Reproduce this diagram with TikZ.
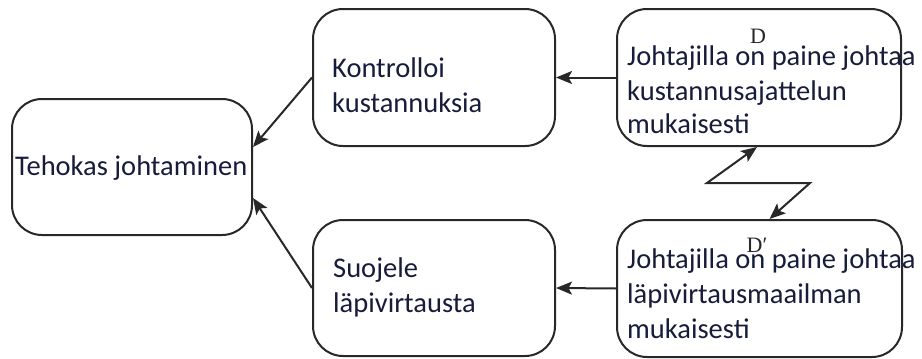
\documentclass[tikz,border=0pt]{standalone}
\usepackage{fontspec}
\setmainfont{Carlito}
\newfontfamily\labelserif{Liberation Serif}
\usetikzlibrary{arrows.meta}
\definecolor{inkline}{RGB}{40,40,40}
\definecolor{inktext}{RGB}{22,28,58}
\begin{document}
\begin{tikzpicture}[x=1pt,y=-1pt,
  box/.style={draw=inkline, line width=2pt, rounded corners=30pt, fill=white, inner sep=0pt},
  txt/.style={anchor=base west, inner sep=0pt, text=inktext, font=\fontsize{28.5}{34}\selectfont},
  tag/.style={anchor=base, inner sep=0pt, text=inkline, font=\labelserif\fontsize{22}{22}\selectfont},
  tip/.tip={Stealth[length=16pt,width=13pt,inset=3.5pt]},
  link/.style={draw=inkline, line width=2pt, -tip},
  twoway/.style={draw=inkline, line width=2pt, tip-tip}]
\useasboundingbox (0,0) rectangle (922,359);
\fill[white] (0,0) rectangle (922,359);

% boxes
\node[box, minimum width=240pt, minimum height=136pt] (T)  at (132,167) {};
\node[box, minimum width=242pt, minimum height=137pt] (K)  at (434,77.5) {};
\node[box, minimum width=242pt, minimum height=136pt] (S)  at (434,288) {};
\node[box, minimum width=284pt, minimum height=137pt] (D)  at (759,77.5) {};
\node[box, minimum width=285pt, minimum height=137pt] (Dp) at (759.5,288.5) {};

% texts
\node[txt] (tT) at (15,175) {Tehokas johtaminen};
\node[txt] (tK1) at (332,77) {Kontrolloi};
\node[txt] (tK2) at (332,112) {kustannuksia};
\node[txt] (tS1) at (333,277) {Suojele};
\node[txt] (tS2) at (333,312) {läpivirtausta};
\node[txt] (tD1) at (627,65) {Johtajilla on paine johtaa};
\node[txt] (tD2) at (627,100) {kustannusajattelun};
\node[txt] (tD3) at (627,133) {mukaisesti};
\node[txt] (tP1) at (627,268) {Johtajilla on paine johtaa};
\node[txt] (tP2) at (627,303) {läpivirtausmaailman};
\node[txt] (tP3) at (627,338) {mukaisesti};

% state tags
\node[tag] (lD)  at (758,43)  {D};
\node[tag] (lDp) at (757,252) {D′};

% connectors
\draw[link] (D.west) -- (K.east);
\draw[link] (Dp.west) -- (S.east);
\draw[link] (K.west) -- ([yshift=20pt]T.east);
\draw[link] (S.west) -- ([yshift=-31pt]T.east);
\coordinate (z1) at (707,183);
\coordinate (z2) at (810,183);
\draw[twoway] ([xshift=-2pt]D.south) -- (z1) -- (z2) -- ([xshift=10pt]Dp.north);
\end{tikzpicture}
\end{document}
